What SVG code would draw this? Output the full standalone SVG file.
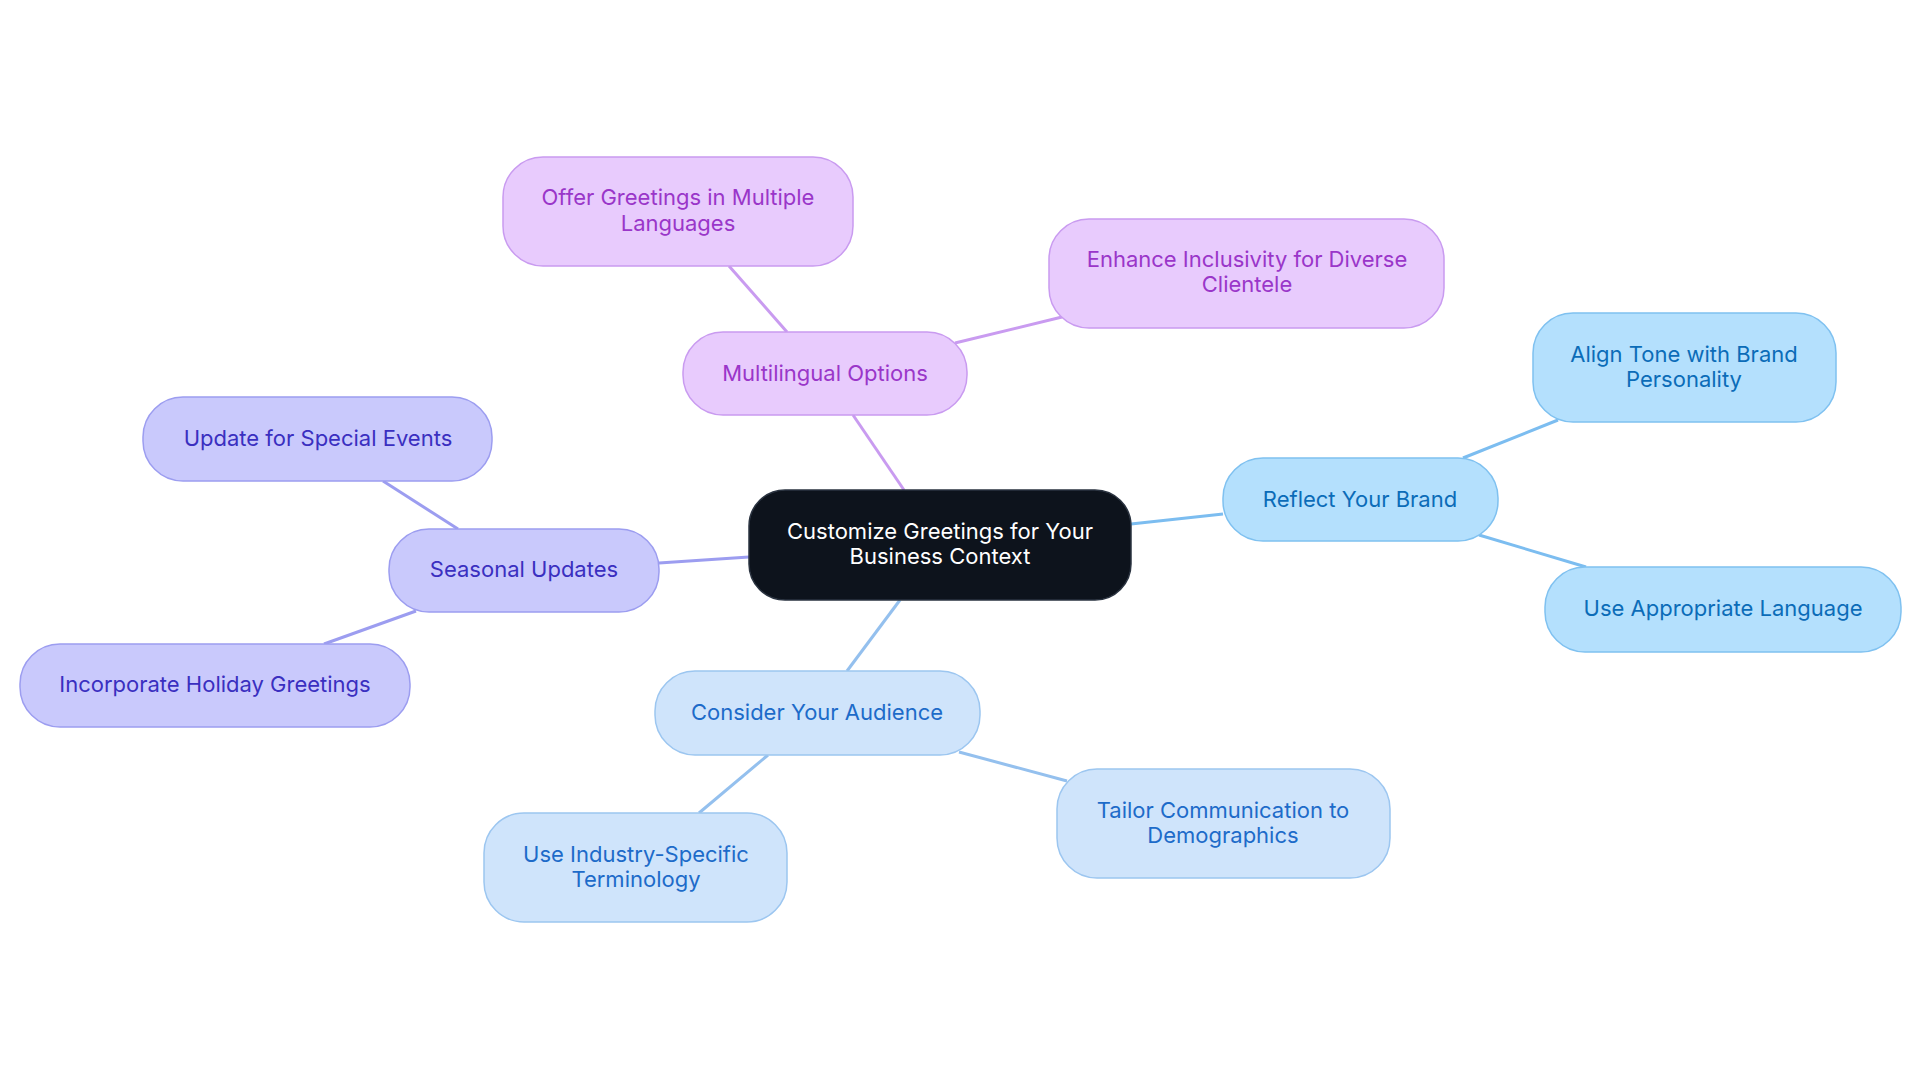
<svg xmlns="http://www.w3.org/2000/svg" width="1920" height="1083" viewBox="0 0 1920 1083">
<style>
text{font-family:Inter,"Noto Sans",sans-serif;font-size:22px;text-anchor:middle;dominant-baseline:central}
.b rect{fill:#b4e0fd;stroke:#7fc1f0;stroke-width:1.5}.b text{fill:#0b6cb8}
.p rect{fill:#e8cbfd;stroke:#c99bf0;stroke-width:1.5}.p text{fill:#9a36c9}
.i rect{fill:#c9c9fc;stroke:#9c9df0;stroke-width:1.5}.i text{fill:#3a2fc0}
.l rect{fill:#cfe4fb;stroke:#9cc6f0;stroke-width:1.5}.l text{fill:#1d6bc9}
#edges line{stroke-width:3;fill:none}
</style>
<rect width="1920" height="1083" fill="#fff"/>
<g id="edges">
<line x1="1131" y1="524" x2="1223" y2="514" stroke="#7cbdf0"/>
<line x1="1463" y1="458" x2="1558" y2="420" stroke="#7cbdf0"/>
<line x1="1479" y1="535" x2="1586" y2="567" stroke="#7cbdf0"/>
<line x1="904" y1="490" x2="853" y2="415" stroke="#c99bf0"/>
<line x1="787" y1="332" x2="729" y2="266" stroke="#c99bf0"/>
<line x1="955" y1="343" x2="1062" y2="317" stroke="#c99bf0"/>
<line x1="749" y1="557" x2="659" y2="563" stroke="#9c9df0"/>
<line x1="458" y1="529" x2="383" y2="481" stroke="#9c9df0"/>
<line x1="416" y1="611" x2="324" y2="644" stroke="#9c9df0"/>
<line x1="900" y1="600" x2="847" y2="671" stroke="#94c0ee"/>
<line x1="768" y1="755" x2="699" y2="813" stroke="#94c0ee"/>
<line x1="959" y1="752" x2="1067" y2="781" stroke="#94c0ee"/>
</g>
<g id="center"><rect x="749" y="490" width="382" height="110" rx="36" fill="#0d131c" stroke="#2a3340" stroke-width="1.5"/><text x="940" y="531" fill="#fff">Customize Greetings for Your</text><text x="940" y="556" fill="#fff">Business Context</text></g>
<g id="reflect" class="b"><rect x="1223" y="458" width="275" height="83" rx="40"/><text x="1360" y="499">Reflect Your Brand</text></g>
<g id="align" class="b"><rect x="1533" y="313" width="303" height="109" rx="40"/><text x="1684" y="354">Align Tone with Brand</text><text x="1684" y="379">Personality</text></g>
<g id="useapp" class="b"><rect x="1545" y="567" width="356" height="85" rx="40"/><text x="1723" y="608">Use Appropriate Language</text></g>
<g id="multi" class="p"><rect x="683" y="332" width="284" height="83" rx="40"/><text x="825" y="373">Multilingual Options</text></g>
<g id="offer" class="p"><rect x="503" y="157" width="350" height="109" rx="40"/><text x="678" y="197">Offer Greetings in Multiple</text><text x="678" y="223">Languages</text></g>
<g id="enhance" class="p"><rect x="1049" y="219" width="395" height="109" rx="40"/><text x="1247" y="259">Enhance Inclusivity for Diverse</text><text x="1247" y="284">Clientele</text></g>
<g id="seasonal" class="i"><rect x="389" y="529" width="270" height="83" rx="40"/><text x="524" y="569">Seasonal Updates</text></g>
<g id="special" class="i"><rect x="143" y="397" width="349" height="84" rx="40"/><text x="318" y="438">Update for Special Events</text></g>
<g id="holiday" class="i"><rect x="20" y="644" width="390" height="83" rx="40"/><text x="215" y="684">Incorporate Holiday Greetings</text></g>
<g id="consider" class="l"><rect x="655" y="671" width="325" height="84" rx="40"/><text x="817" y="712">Consider Your Audience</text></g>
<g id="industry" class="l"><rect x="484" y="813" width="303" height="109" rx="40"/><text x="636" y="854">Use Industry-Specific</text><text x="636" y="879">Terminology</text></g>
<g id="tailor" class="l"><rect x="1057" y="769" width="333" height="109" rx="40"/><text x="1223" y="810">Tailor Communication to</text><text x="1223" y="835">Demographics</text></g>
</svg>
